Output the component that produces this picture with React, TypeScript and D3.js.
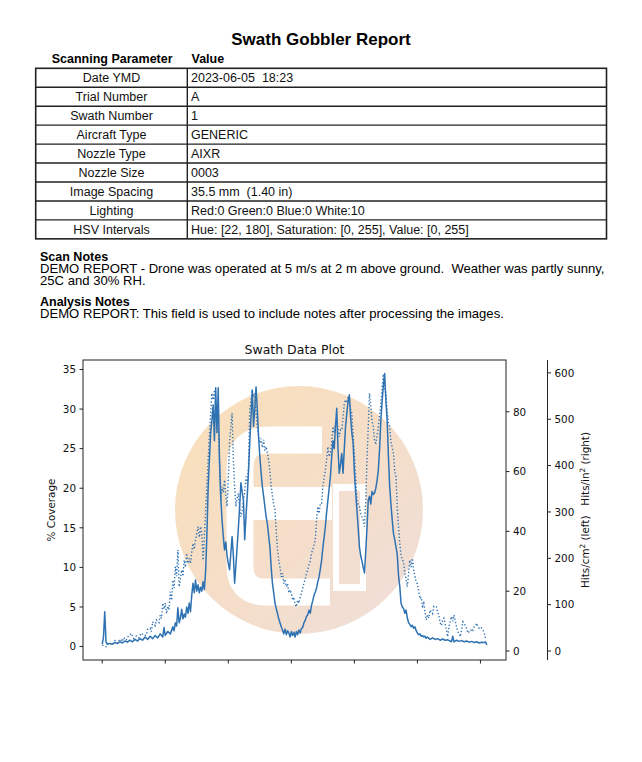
import React from 'react';
import * as d3 from 'd3';

const reportTitle = 'Swath Gobbler Report';
const paramNames = ['Date YMD', 'Trial Number', 'Swath Number', 'Aircraft Type', 'Nozzle Type', 'Nozzle Size', 'Image Spacing', 'Lighting', 'HSV Intervals'];
const paramValues = ['2023-06-05  18:23', 'A', '1', 'GENERIC', 'AIXR', '0003', '35.5 mm  (1.40 in)', 'Red:0 Green:0 Blue:0 White:10', 'Hue: [22, 180], Saturation: [0, 255], Value: [0, 255]'];
const scanNotes = ['DEMO REPORT - Drone was operated at 5 m/s at 2 m above ground.  Weather was partly sunny,', '25C and 30% RH.'];
const analysisNotes = ['DEMO REPORT: This field is used to include notes after processing the images.'];

// % coverage (left axis), [sample index, value]
const coverage: [number, number][] = [
  [0, 0.3], [1, 1.2], [2, 4.4], [3, 0.6], [4, 0.3], [6, 0.4], [8, 0.3], [10, 0.5], [12, 0.4], [14, 0.6], [16, 0.45], [18, 0.7], [20, 0.55], [22, 0.8], [24, 0.6], [26, 0.9], [28, 0.7], [30, 1.0], [32, 0.8], [34, 1.2], [36, 0.9], [38, 1.3], [40, 1.0], [42, 1.4], [44, 1.1], [46, 1.6], [48, 1.2], [49, 2.4], [50, 1.4], [52, 1.9], [54, 1.6], [56, 2.5], [57, 2.0], [58, 3.0], [59, 2.6], [60, 4.9], [61, 3.0], [62, 3.6], [63, 4.7], [64, 3.5], [65, 4.1], [66, 3.7], [67, 5.0], [68, 4.2], [69, 5.5], [70, 4.4], [71, 6.5], [72, 8.0], [73, 6.8], [74, 8.4], [75, 7.0], [76, 7.8], [77, 6.8], [78, 7.5], [79, 7.0], [80, 8.2], [81, 7.2], [82, 9.5], [83, 14], [84, 20], [85, 23.6], [86, 27], [87, 28.6], [88, 30.5], [89, 26], [90, 32.7], [91, 27], [92, 32.7], [93, 23.6], [94, 19], [95, 16], [96, 14], [97, 12.2], [98, 13.2], [99, 11.5], [100, 10.5], [101, 9.7], [102, 11.8], [103, 13.9], [104, 11.5], [105, 8.0], [106, 10.2], [107, 12.6], [108, 15.0], [109, 17.7], [110, 20.7], [111, 19.5], [112, 18.5], [113, 13.5], [114, 16.4], [115, 19], [116, 22], [117, 25.7], [118, 29], [119, 32.4], [120, 27.8], [121, 30], [122, 32.8], [123, 30], [124, 26.5], [125, 24], [126, 22], [127, 20.2], [128, 19], [129, 17.7], [130, 16.4], [131, 15.5], [132, 14], [133, 12.6], [134, 10], [135, 8], [136, 6.8], [137, 5.5], [138, 4.8], [139, 4.2], [140, 3.5], [141, 3.0], [142, 2.5], [143, 2.1], [144, 1.6], [145, 2.2], [146, 1.5], [147, 2.0], [148, 1.7], [149, 1.2], [150, 1.9], [151, 1.4], [152, 1.8], [153, 1.2], [154, 1.9], [155, 1.5], [156, 2.1], [157, 1.7], [158, 2.3], [159, 2.4], [160, 3.0], [161, 3.3], [162, 3.8], [163, 4.0], [164, 4.6], [165, 4.2], [166, 5.2], [167, 5.8], [168, 6.5], [169, 6.9], [170, 7.4], [171, 8.2], [172, 8.8], [173, 9.8], [174, 10.9], [175, 12.5], [176, 13.8], [177, 15.2], [178, 17], [179, 18.5], [180, 20], [181, 21.5], [182, 24], [183, 26], [184, 25], [185, 27.8], [186, 30.1], [187, 25], [188, 21.9], [189, 23], [190, 24.4], [191, 21.9], [192, 25], [193, 27.8], [194, 29.5], [195, 31], [196, 31.8], [197, 29], [198, 27], [199, 25.7], [200, 22], [201, 19.5], [202, 17.3], [203, 15], [204, 12.6], [205, 11.5], [206, 10.8], [207, 10], [208, 9.3], [209, 12], [210, 15], [211, 18.5], [212, 19], [213, 18], [214, 19.6], [215, 19.2], [216, 19.4], [217, 20], [218, 21], [219, 22.3], [220, 25], [221, 28.6], [222, 31], [223, 33], [224, 34.5], [225, 31], [226, 28.6], [227, 24], [228, 20.2], [229, 18], [230, 16], [231, 14.3], [232, 13.5], [233, 12.6], [234, 11.6], [235, 9], [236, 7.6], [237, 5.5], [238, 5.0], [239, 4.8], [240, 4.2], [241, 4.6], [242, 3.6], [243, 3.0], [244, 2.8], [245, 2.5], [246, 2.7], [247, 2.3], [248, 2.5], [249, 2.0], [250, 1.7], [251, 1.5], [252, 1.6], [253, 1.3], [254, 1.4], [255, 1.2], [256, 1.3], [257, 1.05], [258, 1.2], [260, 0.9], [262, 1.1], [264, 0.9], [266, 1.0], [268, 0.8], [270, 0.95], [272, 0.8], [274, 0.85], [276, 0.7], [277, 0.6], [278, 1.3], [279, 0.6], [281, 0.8], [283, 0.65], [285, 0.75], [287, 0.6], [289, 0.7], [291, 0.55], [293, 0.65], [295, 0.5], [297, 0.6], [299, 0.45], [301, 0.55], [303, 0.5], [304, 0.6], [305, 0.2]
];

// hits/cm² (inner right axis), [sample index, value]
const hits: [number, number][] = [
  [0, 2], [3, 1.5], [5, 2.8], [8, 2.2], [10, 3.5], [12, 2.6], [14, 4], [16, 3.2], [17, 4.5], [19, 3.6], [21, 5.2], [23, 5.9], [25, 4.2], [27, 5.0], [29, 4.4], [31, 6.0], [33, 5.2], [35, 5.3], [36, 7.2], [38, 7.6], [39, 6.5], [40, 9.8], [42, 8.5], [43, 10.4], [45, 9.5], [46, 12], [47, 11], [48, 16], [49, 14], [50, 16], [51, 12.5], [52, 15], [53, 13.7], [54, 19.8], [55, 17], [56, 23.7], [57, 21], [58, 28.2], [59, 25], [60, 33.8], [61, 21.5], [62, 24], [63, 27.1], [64, 25], [65, 30.4], [66, 28], [67, 32.7], [68, 29.3], [69, 31], [70, 29.3], [71, 33], [72, 36], [73, 34], [74, 37.1], [75, 39.4], [76, 41.6], [77, 38], [78, 41.6], [79, 39.4], [80, 30.4], [81, 38], [82, 47.2], [83, 55], [84, 63.9], [85, 72], [86, 79.5], [87, 86.2], [88, 84], [89, 87.3], [90, 81.7], [91, 78], [92, 75], [93, 63.9], [94, 50.5], [95, 55], [96, 53], [97, 57.2], [98, 52], [99, 48.3], [100, 58], [101, 69.5], [102, 75], [103, 79.5], [104, 63.9], [105, 55], [106, 48.3], [107, 51], [108, 52.7], [109, 48], [110, 44.9], [111, 47], [112, 50.5], [113, 53], [114, 58.3], [115, 56], [116, 61.6], [117, 80.6], [118, 84], [119, 87.3], [120, 85], [121, 86.2], [122, 80], [123, 75], [124, 72], [125, 69.5], [126, 71], [127, 68], [128, 70.6], [129, 67], [130, 68.3], [131, 66], [132, 63.9], [133, 60], [134, 55], [135, 52], [136, 49], [137, 47.2], [138, 40], [139, 34], [140, 30.4], [141, 28], [142, 24.8], [143, 26], [144, 22.5], [145, 24], [146, 21.5], [147, 22.5], [148, 19.5], [149, 20.5], [150, 19.3], [151, 17], [152, 18], [153, 15.5], [154, 14.8], [155, 17], [156, 16], [157, 18], [158, 19.3], [159, 21], [160, 22.7], [161, 24], [162, 26], [163, 27.1], [164, 29], [165, 30], [166, 32.7], [167, 34], [168, 35.5], [169, 37.1], [170, 43.8], [171, 48.3], [172, 46], [173, 49.4], [174, 49.4], [175, 55], [176, 58], [177, 60.5], [178, 64], [179, 68.3], [180, 65], [181, 66.1], [182, 70], [183, 75], [184, 73], [185, 76], [186, 77.3], [187, 74], [188, 71.7], [189, 74], [190, 73.9], [191, 78], [192, 82.8], [193, 84], [194, 83], [195, 85], [196, 83], [197, 81], [198, 79.5], [199, 72], [200, 66], [201, 58], [202, 50.5], [203, 49], [204, 48.3], [205, 46], [206, 45], [207, 43.8], [208, 41.6], [209, 50], [210, 63.9], [211, 75], [212, 86.2], [213, 82], [214, 77], [215, 75], [216, 70], [217, 69.5], [218, 72], [219, 75], [220, 79], [221, 82.8], [222, 88], [223, 92.6], [224, 88], [225, 86.2], [226, 80], [227, 76.2], [228, 75], [229, 70], [230, 68], [231, 66.1], [232, 60], [233, 58.3], [234, 48], [235, 41.6], [236, 36], [237, 32], [238, 30.4], [239, 29.9], [240, 26], [241, 24], [242, 21.5], [243, 26], [244, 30.4], [245, 28], [246, 31], [247, 27], [248, 25], [249, 23], [250, 22.5], [251, 20], [252, 17.5], [253, 18], [254, 15], [255, 16], [256, 13], [257, 10.4], [258, 12], [259, 11], [260, 13.7], [262, 12.5], [263, 15], [265, 14.8], [266, 13], [267, 12], [268, 9.5], [269, 8.5], [270, 10.4], [271, 11], [272, 9], [273, 7], [274, 4.8], [275, 8], [276, 10], [277, 11.5], [278, 10], [279, 12], [280, 10], [281, 8.1], [282, 6.5], [283, 5.9], [284, 4.8], [285, 7], [286, 9.8], [287, 9.3], [288, 8.5], [289, 7.5], [290, 6], [291, 6.5], [292, 6.5], [293, 7.5], [294, 7], [295, 8.1], [296, 8.5], [297, 9.3], [298, 8], [299, 7.6], [300, 8], [301, 7.6], [302, 7], [303, 6], [304, 4.2]
];

const xTicks = [0, 50, 100, 150, 200, 250, 300];
const leftTicks = [0, 5, 10, 15, 20, 25, 30, 35];
const midTicks = [0, 20, 40, 60, 80];
const rightTicks = [0, 100, 200, 300, 400, 500, 600];
const CM2_TO_IN2 = 6.4516;

const SANS = '"Liberation Sans", Arial, sans-serif';
const MPL = '"DejaVu Sans", sans-serif';
const LINE = '#2f72b3';
const INK = '#222';

export default function App() {
  const W = 642, H = 762;
  const P = { l: 83, r: 506, t: 360, b: 660 };
  const farX = 547.5;

  const x = d3.scaleLinear().domain([-15.25, 320.25]).range([P.l, P.r]);
  const yL = d3.scaleLinear().domain([-1.7, 36.2]).range([P.b, P.t]);
  const yM = d3.scaleLinear().domain([-3.0, 97.3]).range([P.b, P.t]);
  const yR = d3.scaleLinear().domain([-3.0 * CM2_TO_IN2, 97.3 * CM2_TO_IN2]).range([P.b, P.t]);

  const covLine = d3.line<[number, number]>().x(d => x(d[0])).y(d => yL(d[1]))(coverage) || '';
  const hitLine = d3.line<[number, number]>().x(d => x(d[0])).y(d => yM(d[1]))(hits) || '';

  // table geometry
  const tL = 35.7, tR = 606.5, tDiv = 187.3, tTop = 68.3, rowH = 18.95;
  const tBot = tTop + rowH * paramNames.length;

  const tickLen = 3.5;
  const fs = 10.4;

  return (
    <svg width={W} height={H} viewBox={`0 0 ${W} ${H}`} style={{ position: 'absolute', left: 0, top: 0, background: '#fff' }}>
      <rect x={0} y={0} width={W} height={H} fill="#fff" />
      <defs>
        <linearGradient id="wmGrad" x1="0" y1="0" x2="1" y2="1">
          <stop offset="0" stopColor="#f9d8a8" />
          <stop offset="0.55" stopColor="#f3d7bd" />
          <stop offset="1" stopColor="#ebd7d2" />
        </linearGradient>
      </defs>

      {/* Title */}
      <text x={321} y={45} textAnchor="middle" fontFamily={SANS} fontWeight="bold" fontSize={17}>{reportTitle}</text>

      {/* Table header */}
      <text x={51.7} y={63.3} fontFamily={SANS} fontWeight="bold" fontSize={12.5}>Scanning Parameter</text>
      <text x={191.5} y={63.3} fontFamily={SANS} fontWeight="bold" fontSize={12.5}>Value</text>

      {/* Table */}
      <g>
        {paramNames.map((p, i) => (
          <g key={p}>
            <text x={(tL + tDiv) / 2} y={tTop + rowH * i + 14} textAnchor="middle" fontFamily={SANS} fontSize={12.5} fill="#111">{p}</text>
            <text x={191} y={tTop + rowH * i + 14} fontFamily={SANS} fontSize={12.5} fill="#111" style={{ whiteSpace: 'pre' }}>{paramValues[i]}</text>
            {i > 0 && <line x1={tL} x2={tR} y1={tTop + rowH * i} y2={tTop + rowH * i} stroke={INK} strokeWidth={1.4} />}
          </g>
        ))}
        <line x1={tDiv} x2={tDiv} y1={tTop} y2={tBot} stroke={INK} strokeWidth={1.4} />
        <rect x={tL} y={tTop} width={tR - tL} height={tBot - tTop} fill="none" stroke={INK} strokeWidth={1.6} />
      </g>

      {/* Notes */}
      <text x={40} y={260.5} fontFamily={SANS} fontWeight="bold" fontSize={12.5}>Scan Notes</text>
      {scanNotes.map((s, i) => (
        <text key={i} x={40} y={272.5 + 12 * i} fontFamily={SANS} fontSize={13.1} style={{ whiteSpace: 'pre' }}>{s}</text>
      ))}
      <text x={40} y={306.3} fontFamily={SANS} fontWeight="bold" fontSize={12.5}>Analysis Notes</text>
      {analysisNotes.map((s, i) => (
        <text key={i} x={40} y={318 + 12 * i} fontFamily={SANS} fontSize={13.1} style={{ whiteSpace: 'pre' }}>{s}</text>
      ))}

      {/* Chart title */}
      <text x={(P.l + P.r) / 2} y={354.3} textAnchor="middle" fontFamily={MPL} fontSize={12.5} fill="#111">Swath Data Plot</text>

      {/* Watermark */}
      <g opacity={0.8}>
        <circle cx={299} cy={510} r={124} fill="url(#wmGrad)" />
        <path d="M 322 440 L 268 440 Q 240 440 240 468 L 240 566 Q 240 592 266 592 L 330 592" fill="none" stroke="#fff" strokeWidth={27} />
        <rect x={228} y={487} width={104} height={33} fill="#fff" />
        <rect x={333} y={484} width={33} height={107} fill="#fff" />
        <rect x={339} y={491} width={21} height={93} fill="#f1d8c6" />
      </g>

      {/* Data lines */}
      <path d={hitLine} fill="none" stroke={LINE} strokeWidth={1.4} strokeDasharray="1.3,2.1" />
      <path d={covLine} fill="none" stroke={LINE} strokeWidth={1.5} strokeLinejoin="round" />

      {/* Plot frame */}
      <rect x={P.l} y={P.t} width={P.r - P.l} height={P.b - P.t} fill="none" stroke={INK} strokeWidth={1} />

      {/* X ticks */}
      {xTicks.map(t => (
        <line key={t} x1={x(t)} x2={x(t)} y1={P.b} y2={P.b + tickLen} stroke={INK} strokeWidth={1} />
      ))}

      {/* Left axis */}
      {leftTicks.map(t => (
        <g key={t}>
          <line x1={P.l - tickLen} x2={P.l} y1={yL(t)} y2={yL(t)} stroke={INK} strokeWidth={1} />
          <text x={P.l - tickLen - 3.5} y={yL(t) + 3.8} textAnchor="end" fontFamily={MPL} fontSize={fs} fill="#111">{t}</text>
        </g>
      ))}
      <text transform={`translate(54.5, ${(P.t + P.b) / 2}) rotate(-90)`} textAnchor="middle" fontFamily={MPL} fontSize={fs} fill="#111">% Coverage</text>

      {/* Inner right axis (hits/cm²) */}
      {midTicks.map(t => (
        <g key={t}>
          <line x1={P.r} x2={P.r + tickLen} y1={yM(t)} y2={yM(t)} stroke={INK} strokeWidth={1} />
          <text x={P.r + tickLen + 3.5} y={yM(t) + 3.8} fontFamily={MPL} fontSize={fs} fill="#111">{t}</text>
        </g>
      ))}

      {/* Outer right axis (hits/in²) */}
      <line x1={farX} x2={farX} y1={P.t} y2={P.b} stroke={INK} strokeWidth={1} />
      {rightTicks.map(t => (
        <g key={t}>
          <line x1={farX} x2={farX + tickLen} y1={yR(t)} y2={yR(t)} stroke={INK} strokeWidth={1} />
          <text x={farX + tickLen + 3.5} y={yR(t) + 3.8} fontFamily={MPL} fontSize={fs} fill="#111">{t}</text>
        </g>
      ))}
      <text transform={`translate(589, ${(P.t + P.b) / 2}) rotate(-90)`} textAnchor="middle" fontFamily={MPL} fontSize={fs} fill="#111" style={{ whiteSpace: 'pre' }}>
        <tspan>Hits/cm</tspan><tspan dy={-4} fontSize={7.3}>2</tspan><tspan dy={4}>{' (left)   Hits/in'}</tspan><tspan dy={-4} fontSize={7.3}>2</tspan><tspan dy={4}>{' (right)'}</tspan>
      </text>
    </svg>
  );
}
